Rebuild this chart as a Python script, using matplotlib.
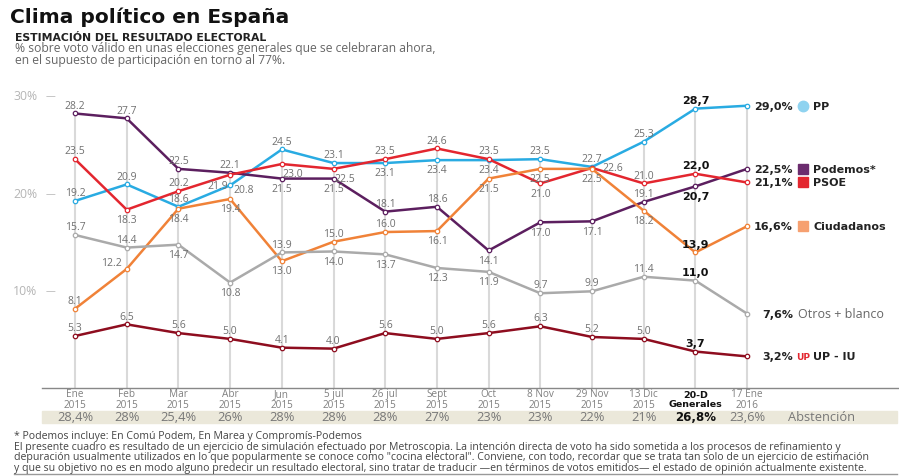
import matplotlib.pyplot as plt
from matplotlib.patches import Rectangle
from matplotlib.transforms import ScaledTranslation

plt.rcParams["font.family"] = ["Open Sans", "DejaVu Sans"]

W, H = 899, 477

dates = ["Ene\n2015", "Feb\n2015", "Mar\n2015", "Abr\n2015", "Jun\n2015", "5 jul\n2015",
         "26 jul\n2015", "Sept\n2015", "Oct\n2015", "8 Nov\n2015", "29 Nov\n2015",
         "13 Dic\n2015", "20-D\nGenerales", "17 Ene\n2016"]

pp = [19.2, 20.9, 18.6, 20.8, 24.5, 23.1, 23.1, 23.4, 23.4, 23.5, 22.7, 25.3, 28.7, 29.0]
podemos = [28.2, 27.7, 22.5, 22.1, 21.5, 21.5, 18.1, 18.6, 14.1, 17.0, 17.1, 19.1, 20.7, 22.5]
psoe = [23.5, 18.3, 20.2, 21.9, 23.0, 22.5, 23.5, 24.6, 23.5, 21.0, 22.6, 21.0, 22.0, 21.1]
cs = [8.1, 12.2, 18.4, 19.4, 13.0, 15.0, 16.0, 16.1, 21.5, 22.5, 22.5, 18.2, 13.9, 16.6]
otros = [15.7, 14.4, 14.7, 10.8, 13.9, 14.0, 13.7, 12.3, 11.9, 9.7, 9.9, 11.4, 11.0, 7.6]
up_iu = [5.3, 6.5, 5.6, 5.0, 4.1, 4.0, 5.6, 5.0, 5.6, 6.3, 5.2, 5.0, 3.7, 3.2]

abstencion = ["28,4%", "28%", "25,4%", "26%", "28%", "28%", "28%", "27%", "23%",
              "23%", "22%", "21%", "26,8%", "23,6%"]

# label placement per point: a=above, b=below, others = small nudges
offs = {"a": (0, 6), "b": (0, -7), "B": (8, -7), "r": (10, -3), "R": (15, 0),
        "l": (-11, 5), "L": (-9, -8)}

series = [
    ("PP", pp, "#29abe2", "aaaraabbbaaaa"),
    ("Podemos*", podemos, "#5c1f5f", "aaaabbaabbbab"),
    ("PSOE", psoe, "#e3262f", "abaLBBaaabRaa"),
    ("Ciudadanos", cs, "#f08238", "albbbaabbbbba"),
    ("Otros + blanco", otros, "#aaaaaa", "aabbabbbbaaaa"),
    ("UP - IU", up_iu, "#8e0d1f", "aaaaaaaaaaaaa"),
]
icons = {"PP": ("o", "#8fd3f0"), "Podemos*": ("s", "#6b2c6e"), "PSOE": ("s", "#e3262f"),
         "Ciudadanos": ("s", "#f6a070"), "Otros + blanco": None, "UP - IU": ("U", "#e3262f")}

fig = plt.figure(figsize=(W / 100, H / 100), dpi=100)
x0, dx = 75, 51.7
y30, y0 = 97, 388.5
ax = fig.add_axes([0, 1 - y0 / H, 1, (y0 - y30) / H])
ax.set_xlim(-x0 / dx, (W - x0) / dx)
ax.set_ylim(0, 30)
ax.axis("off")

xs = list(range(len(dates)))
tops = [max(v) for v in zip(pp, podemos, psoe, cs, otros, up_iu)]
ax.vlines(xs, 0, tops, color="#d9d9d9", lw=1.5, zorder=1)
ax.plot([(42 - x0) / dx, (W - x0) / dx], [0, 0], color="#888888", lw=1, clip_on=False)

for t in [30, 20, 10]:
    ax.annotate(f"{t}%", (0, t), xytext=(-27, 0), textcoords="offset points",
                ha="right", va="center", fontsize=8.8, color="#b5b5b5")
    ax.annotate("—", (0, t), xytext=(-18, 0), textcoords="offset points",
                ha="center", va="center", fontsize=7, color="#b5b5b5")

for name, vals, col, pos in series:
    ax.plot(xs, vals, color=col, lw=1.8, zorder=3, marker="o", ms=3.2,
            mfc="white", mec=col, mew=0.9)
    for i, (v, p) in enumerate(zip(vals[:-1], pos)):
        bold = i == 12
        if bold:
            ax.annotate(f"{v:.1f}".replace(".", ","), (i, v), xytext=offs[p],
                        textcoords="offset points", ha="center", va="center",
                        fontsize=8, color="#111111", fontweight="bold",
                        family="DejaVu Sans", zorder=4)
        else:
            ax.annotate(f"{v:.1f}", (i, v), xytext=offs[p], textcoords="offset points",
                        ha="center", va="center", fontsize=7.5, color="#707070", zorder=4)
    last = vals[-1]
    ax.annotate(f"{last:.1f}%".replace(".", ","), (13, last), xytext=(33, 0),
                textcoords="offset points", ha="right", va="center", fontsize=8,
                fontweight="bold", color="#222222", family="DejaVu Sans")
    ic = icons[name]
    if ic is None:
        ax.annotate(name, (13, last), xytext=(36.5, 0), textcoords="offset points",
                    ha="left", va="center", fontsize=9, color="#666666")
        continue
    if ic[0] == "U":
        ax.annotate("UP", (13, last), xytext=(40, 0), textcoords="offset points",
                    ha="center", va="center", fontsize=6.5, fontweight="bold",
                    color=ic[1], family="DejaVu Sans")
    else:
        shift = ScaledTranslation(40 / 72, 0, fig.dpi_scale_trans)
        ax.plot([13], [last], marker=ic[0], ms=7.5, color=ic[1], mec=ic[1],
                clip_on=False, transform=ax.transData + shift)
    ax.annotate(name, (13, last), xytext=(47.5, 0), textcoords="offset points",
                ha="left", va="center", fontsize=8, fontweight="bold",
                color="#222222", family="DejaVu Sans")

# x labels and abstention band
for i, d in enumerate(dates):
    bold = i == 12
    fig.text((x0 + i * dx) / W, 1 - 400 / H, d, ha="center", va="center",
             fontsize=7.2 if not bold else 6.8, linespacing=1.0,
             color="#111111" if bold else "#808080",
             fontweight="bold" if bold else "normal",
             family="DejaVu Sans" if bold else "Open Sans")

fig.patches.append(Rectangle((42 / W, 1 - 424 / H), (897 - 42) / W, 12 / H,
                             transform=fig.transFigure, color="#ebe8da", zorder=0))
for i, a in enumerate(abstencion):
    bold = i == 12
    fig.text((x0 + i * dx) / W, 1 - 418 / H, a, ha="center", va="center",
             fontsize=9.3 if not bold else 8.5,
             color="#111111" if bold else "#777777", fontweight="bold" if bold else "normal",
             family="DejaVu Sans" if bold else "Open Sans")
fig.text(788 / W, 1 - 418 / H, "Abstención", ha="left", va="center", fontsize=9.3,
         color="#777777")

# titles
fig.text(10 / W, 1 - 17 / H, "Clima político en España", ha="left", va="center",
         fontsize=14.5, fontweight="bold", family="DejaVu Sans", color="#111111")
fig.text(15 / W, 1 - 38 / H, "ESTIMACIÓN DEL RESULTADO ELECTORAL", ha="left", va="center",
         fontsize=7.8, fontweight="bold", family="DejaVu Sans", color="#222222")
fig.text(15 / W, 1 - 48.5 / H, "% sobre voto válido en unas elecciones generales que se celebraran ahora,",
         ha="left", va="center", fontsize=8.7, color="#666666")
fig.text(15 / W, 1 - 60.5 / H, "en el supuesto de participación en torno al 77%.",
         ha="left", va="center", fontsize=8.7, color="#666666")

notes = [
    "* Podemos incluye: En Comú Podem, En Marea y Compromís-Podemos",
    "El presente cuadro es resultado de un ejercicio de simulación efectuado por Metroscopia. "
    "La intención directa de voto ha sido sometida a los procesos de refinamiento y",
    "depuración usualmente utilizados en lo que popularmente se conoce como \"cocina electoral\". "
    "Conviene, con todo, recordar que se trata tan solo de un ejercicio de estimación",
    "y que su objetivo no es en modo alguno predecir un resultado electoral, sino tratar de traducir "
    "—en términos de votos emitidos— el estado de opinión actualmente existente.",
]
for k, n in enumerate(notes):
    fig.text(14 / W, 1 - (437 + k * 10.4) / H, n, ha="left", va="center", fontsize=7.55,
             color="#444444")
fig.add_artist(plt.Line2D([14 / W, 897 / W], [1 - 475 / H, 1 - 475 / H],
                          transform=fig.transFigure, color="#999999", lw=1))

fig.savefig("out.png", dpi=100)
